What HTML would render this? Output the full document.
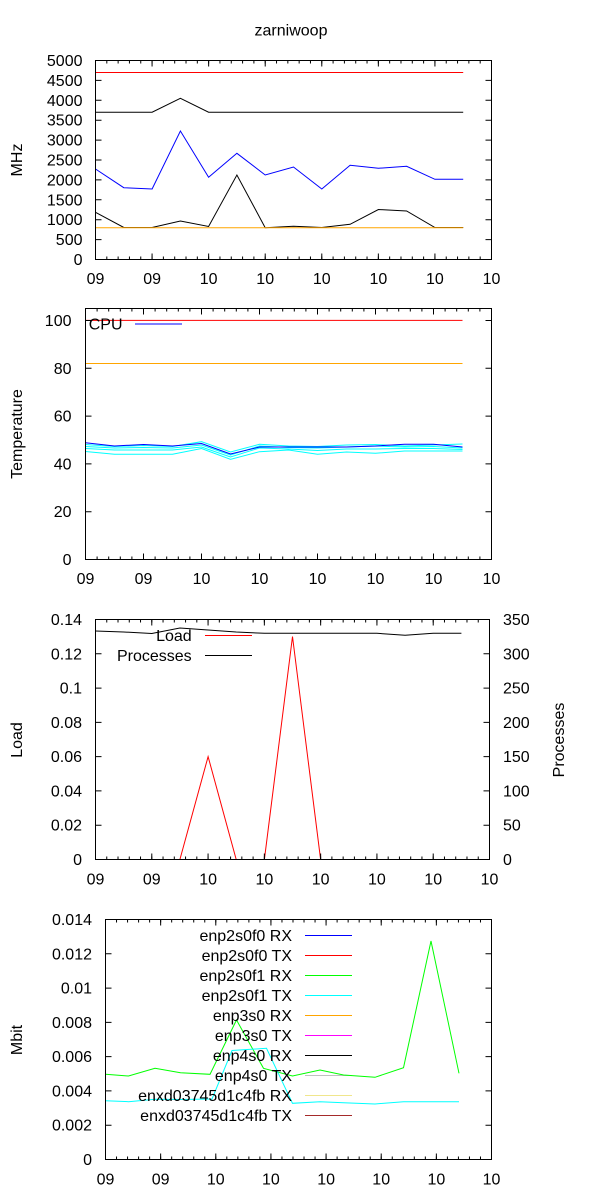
<!DOCTYPE html>
<html><head><meta charset="utf-8"><style>html,body{margin:0;padding:0;background:#fff}svg{display:block}</style></head>
<body>
<svg xmlns="http://www.w3.org/2000/svg" width="600" height="1200" viewBox="0 0 600 1200" font-family="'Liberation Sans', Arial, sans-serif" font-size="16" fill="#000">
<rect width="600" height="1200" fill="#fff"/>
<text x="291" y="35.5" text-anchor="middle">zarniwoop</text>

<!-- ============ PANEL 1 ============ -->
<g fill="none" stroke-width="1">
<polyline stroke="#ff0000" points="95.5,72.5 463.2,72.5"/>
<polyline stroke="#000" points="95.5,112.2 123.8,112.2 152.1,112.2 180.4,98.3 208.6,112.2 236.9,112.2 265.2,112.2 293.5,112.2 321.8,112.2 350.1,112.2 378.4,112.2 406.6,112.2 434.9,112.2 463.2,112.2"/>
<polyline stroke="#0000ff" points="95.5,169 123.8,187.7 152.1,189 180.4,131 208.6,177.3 236.9,153.3 265.2,175 293.5,167 321.8,189 350.1,165.3 378.4,168.3 406.6,166.3 434.9,179.3 463.2,179.3"/>
<polyline stroke="#000" points="95.5,212.3 123.8,227.5 152.1,227.5 180.4,221 208.6,226.5 236.9,175 265.2,227.7 293.5,226.3 321.8,227.5 350.1,224.3 378.4,209.5 406.6,211 434.9,227.5 463.2,227.5"/>
<polyline stroke="#ffa500" points="95.5,227.7 463.2,227.7"/>
</g>
<g stroke="#000" fill="none">
<line x1="95" y1="256.5" x2="492" y2="256.5" stroke-width="6" stroke-dasharray="1 55.571"/>
<line x1="95" y1="258" x2="492" y2="258" stroke-width="3" stroke-dasharray="1 10.314"/>
<line x1="95" y1="63.5" x2="492" y2="63.5" stroke-width="6" stroke-dasharray="1 55.571"/>
<line x1="95" y1="62" x2="492" y2="62" stroke-width="3" stroke-dasharray="1 10.314"/>
<line x1="98.5" y1="260" x2="98.5" y2="60" stroke-width="6" stroke-dasharray="1 18.9"/>
<line x1="488.5" y1="260" x2="488.5" y2="60" stroke-width="6" stroke-dasharray="1 18.9"/>
<rect x="95.5" y="60.5" width="396" height="199" stroke-width="1"/>
</g>
<g text-anchor="end">
<text x="82.5" y="265">0</text>
<text x="82.5" y="245.1">500</text>
<text x="82.5" y="225.2">1000</text>
<text x="82.5" y="205.3">1500</text>
<text x="82.5" y="185.4">2000</text>
<text x="82.5" y="165.5">2500</text>
<text x="82.5" y="145.6">3000</text>
<text x="82.5" y="125.7">3500</text>
<text x="82.5" y="105.8">4000</text>
<text x="82.5" y="85.9">4500</text>
<text x="82.5" y="66">5000</text>
</g>
<g text-anchor="middle">
<text x="95.5" y="284">09</text>
<text x="152.1" y="284">09</text>
<text x="208.6" y="284">10</text>
<text x="265.2" y="284">10</text>
<text x="321.8" y="284">10</text>
<text x="378.4" y="284">10</text>
<text x="434.9" y="284">10</text>
<text x="491.5" y="284">10</text>
</g>
<text transform="translate(22,160) rotate(-90)" text-anchor="middle">MHz</text>

<!-- ============ PANEL 2 ============ -->
<g fill="none" stroke-width="1">
<polyline stroke="#ff0000" points="85.5,320.4 462.5,320.4"/>
<polyline stroke="#ffa500" points="85.5,363.5 462.5,363.5"/>
<polyline stroke="#00ffff" points="85.5,444.5 114.5,446.5 143.5,445.5 172.5,446.5 201.5,441.7 230.5,452 259.5,444.3 288.5,446 317.5,446.5 346.5,445 375.5,444.5 404.5,446 433.5,445 462.5,444"/>
<polyline stroke="#00ffff" points="85.5,446.5 114.5,448 143.5,447.5 172.5,448 201.5,445 230.5,455 259.5,446 288.5,447.5 317.5,448 346.5,447 375.5,446 404.5,447 433.5,446.5 462.5,448"/>
<polyline stroke="#00ffff" points="85.5,448.5 114.5,450 143.5,450 172.5,450 201.5,447 230.5,457 259.5,448 288.5,449 317.5,450.5 346.5,449 375.5,449 404.5,448.5 433.5,448.5 462.5,449.5"/>
<polyline stroke="#00ffff" points="85.5,451.5 114.5,454.3 143.5,454.3 172.5,454.3 201.5,448.5 230.5,459.3 259.5,451.7 288.5,450 317.5,454.3 346.5,452 375.5,453.3 404.5,451 433.5,451 462.5,451"/>
<polyline stroke="#0000ff" points="85.5,442.7 114.5,446 143.5,444.5 172.5,446 201.5,443.5 230.5,454 259.5,447 288.5,447 317.5,447 346.5,447 375.5,446 404.5,444.3 433.5,444.3 462.5,447"/>
<line x1="135" y1="324" x2="182" y2="324" stroke="#0000ff"/>
</g>
<text x="122.5" y="329.5" text-anchor="end">CPU</text>
<g stroke="#000" fill="none">
<line x1="85" y1="556.5" x2="492" y2="556.5" stroke-width="6" stroke-dasharray="1 57"/>
<line x1="85" y1="558" x2="492" y2="558" stroke-width="3" stroke-dasharray="1 10.6"/>
<line x1="85" y1="311.5" x2="492" y2="311.5" stroke-width="6" stroke-dasharray="1 57"/>
<line x1="85" y1="310" x2="492" y2="310" stroke-width="3" stroke-dasharray="1 10.6"/>
<line x1="88.5" y1="560" x2="88.5" y2="308" stroke-width="6" stroke-dasharray="1 46.81"/>
<line x1="488.5" y1="560" x2="488.5" y2="308" stroke-width="6" stroke-dasharray="1 46.81"/>
<rect x="85.5" y="308.5" width="406" height="251" stroke-width="1"/>
</g>
<g text-anchor="end">
<text x="71.5" y="565">0</text>
<text x="71.5" y="517.2">20</text>
<text x="71.5" y="469.4">40</text>
<text x="71.5" y="421.6">60</text>
<text x="71.5" y="373.8">80</text>
<text x="71.5" y="325.9">100</text>
</g>
<g text-anchor="middle">
<text x="85.5" y="584">09</text>
<text x="143.5" y="584">09</text>
<text x="201.5" y="584">10</text>
<text x="259.5" y="584">10</text>
<text x="317.5" y="584">10</text>
<text x="375.5" y="584">10</text>
<text x="433.5" y="584">10</text>
<text x="491.5" y="584">10</text>
</g>
<text transform="translate(22,434) rotate(-90)" text-anchor="middle">Temperature</text>

<!-- ============ PANEL 3 ============ -->
<g fill="none" stroke-width="1">
<polyline stroke="#000" points="95.5,631 123.6,632 151.8,633.5 179.9,628 208.1,630 236.2,632 264.4,633.3 292.5,633.3 320.6,633.3 348.8,633.3 376.9,633.3 405.1,635.3 433.2,633.3 461.4,633.3"/>
<polyline stroke="#ff0000" points="95.5,859.5 179.9,859.5 208.1,756.6 236.2,859.5 264.4,859.5 292.5,636.6 320.6,859.5 461.4,859.5"/>
<line x1="205" y1="635.5" x2="252" y2="635.5" stroke="#ff0000"/>
<line x1="205" y1="655.5" x2="252" y2="655.5" stroke="#000"/>
</g>
<g text-anchor="end">
<text x="191.7" y="641">Load</text>
<text x="191.7" y="661">Processes</text>
</g>
<g stroke="#000" fill="none">
<line x1="95" y1="856.5" x2="490" y2="856.5" stroke-width="6" stroke-dasharray="1 55.286"/>
<line x1="95" y1="858" x2="490" y2="858" stroke-width="3" stroke-dasharray="1 10.257"/>
<line x1="95" y1="622.5" x2="490" y2="622.5" stroke-width="6" stroke-dasharray="1 55.286"/>
<line x1="95" y1="621" x2="490" y2="621" stroke-width="3" stroke-dasharray="1 10.257"/>
<line x1="98.5" y1="860" x2="98.5" y2="619" stroke-width="6" stroke-dasharray="1 33.286"/>
<line x1="486.5" y1="860" x2="486.5" y2="619" stroke-width="6" stroke-dasharray="1 33.286"/>
<rect x="95.5" y="619.5" width="394" height="240" stroke-width="1"/>
</g>
<g text-anchor="end">
<text x="82" y="865">0</text>
<text x="82" y="830.7">0.02</text>
<text x="82" y="796.4">0.04</text>
<text x="82" y="762.1">0.06</text>
<text x="82" y="727.9">0.08</text>
<text x="82" y="693.6">0.1</text>
<text x="82" y="659.3">0.12</text>
<text x="82" y="625">0.14</text>
</g>
<g text-anchor="start">
<text x="503" y="865">0</text>
<text x="503" y="830.7">50</text>
<text x="503" y="796.4">100</text>
<text x="503" y="762.1">150</text>
<text x="503" y="727.9">200</text>
<text x="503" y="693.6">250</text>
<text x="503" y="659.3">300</text>
<text x="503" y="625">350</text>
</g>
<g text-anchor="middle">
<text x="95.5" y="884.5">09</text>
<text x="151.8" y="884.5">09</text>
<text x="208.1" y="884.5">10</text>
<text x="264.4" y="884.5">10</text>
<text x="320.6" y="884.5">10</text>
<text x="376.9" y="884.5">10</text>
<text x="433.2" y="884.5">10</text>
<text x="489.5" y="884.5">10</text>
</g>
<text transform="translate(22,740) rotate(-90)" text-anchor="middle">Load</text>
<text transform="translate(564,740) rotate(-90)" text-anchor="middle">Processes</text>

<!-- ============ PANEL 4 ============ -->
<g fill="none" stroke-width="1">
<line x1="305" y1="935.5" x2="352" y2="935.5" stroke="#0000ff"/>
<line x1="305" y1="955.5" x2="352" y2="955.5" stroke="#ff0000"/>
<line x1="305" y1="975.5" x2="352" y2="975.5" stroke="#00ff00"/>
<line x1="305" y1="995.5" x2="352" y2="995.5" stroke="#00ffff"/>
<line x1="305" y1="1015.5" x2="352" y2="1015.5" stroke="#ffa500"/>
<line x1="305" y1="1035.5" x2="352" y2="1035.5" stroke="#ff00ff"/>
<line x1="305" y1="1055.5" x2="352" y2="1055.5" stroke="#000000"/>
<line x1="305" y1="1075.5" x2="352" y2="1075.5" stroke="#c0c0c0"/>
<line x1="305" y1="1095.5" x2="352" y2="1095.5" stroke="#f0e68c"/>
<line x1="305" y1="1115.5" x2="352" y2="1115.5" stroke="#a52a2a"/>
<polyline stroke="#00ff00" points="105.5,1074.3 128.5,1076 155,1068.3 180.5,1072.7 210,1074.3 236.5,1020 263.5,1068.3 292.5,1076 320,1070 343.5,1075 375,1077.3 403.5,1067.7 431,941 459,1073.3"/>
<polyline stroke="#00ffff" points="105.5,1100.7 128.5,1101.7 155,1099.3 180.5,1099.5 212,1099 232,1050.5 266.5,1048.3 292.5,1103.3 320,1101.7 343.5,1102.7 375,1104 403.5,1101.7 431,1101.7 459,1101.7"/>
</g>
<g text-anchor="end">
<text x="292" y="941">enp2s0f0 RX</text>
<text x="292" y="961">enp2s0f0 TX</text>
<text x="292" y="981">enp2s0f1 RX</text>
<text x="292" y="1001">enp2s0f1 TX</text>
<text x="292" y="1021">enp3s0 RX</text>
<text x="292" y="1041">enp3s0 TX</text>
<text x="292" y="1061">enp4s0 RX</text>
<text x="292" y="1081">enp4s0 TX</text>
<text x="292" y="1101">enxd03745d1c4fb RX</text>
<text x="292" y="1121">enxd03745d1c4fb TX</text>
</g>
<g stroke="#000" fill="none">
<line x1="105" y1="1156.5" x2="492" y2="1156.5" stroke-width="6" stroke-dasharray="1 54.143"/>
<line x1="105" y1="1158" x2="492" y2="1158" stroke-width="3" stroke-dasharray="1 10.029"/>
<line x1="105" y1="922.5" x2="492" y2="922.5" stroke-width="6" stroke-dasharray="1 54.143"/>
<line x1="105" y1="921" x2="492" y2="921" stroke-width="3" stroke-dasharray="1 10.029"/>
<line x1="108.5" y1="1160" x2="108.5" y2="919" stroke-width="6" stroke-dasharray="1 33.286"/>
<line x1="488.5" y1="1160" x2="488.5" y2="919" stroke-width="6" stroke-dasharray="1 33.286"/>
<rect x="105.5" y="919.5" width="386" height="240" stroke-width="1"/>
</g>
<g text-anchor="end">
<text x="92" y="1165">0</text>
<text x="92" y="1130.7">0.002</text>
<text x="92" y="1096.4">0.004</text>
<text x="92" y="1062.1">0.006</text>
<text x="92" y="1027.9">0.008</text>
<text x="92" y="993.6">0.01</text>
<text x="92" y="959.3">0.012</text>
<text x="92" y="925">0.014</text>
</g>
<g text-anchor="middle">
<text x="105.5" y="1184.5">09</text>
<text x="160.6" y="1184.5">09</text>
<text x="215.8" y="1184.5">10</text>
<text x="270.9" y="1184.5">10</text>
<text x="326.1" y="1184.5">10</text>
<text x="381.2" y="1184.5">10</text>
<text x="436.4" y="1184.5">10</text>
<text x="491.5" y="1184.5">10</text>
</g>
<text transform="translate(22,1040) rotate(-90)" text-anchor="middle">Mbit</text>
</svg>
</body></html>
